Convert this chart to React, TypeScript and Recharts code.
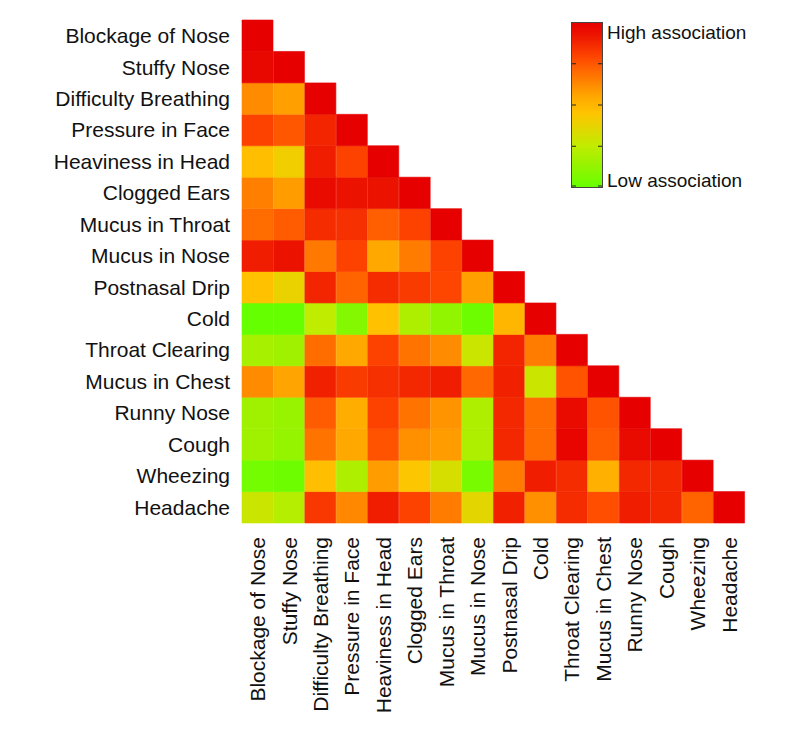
import React from "react";
import { BarChart, Bar, XAxis, YAxis, Cell } from "recharts";

const categories = [
  "Blockage of Nose", "Stuffy Nose", "Difficulty Breathing", "Pressure in Face",
  "Heaviness in Head", "Clogged Ears", "Mucus in Throat", "Mucus in Nose",
  "Postnasal Drip", "Cold", "Throat Clearing", "Mucus in Chest",
  "Runny Nose", "Cough", "Wheezing", "Headache",
];

// association strength (0 = low, 1 = high), lower triangle by row
const blockageOfNose = [1.0];
const stuffyNose = [0.97, 1.0];
const difficultyBreathing = [0.62, 0.57, 1.0];
const pressureInFace = [0.8, 0.75, 0.88, 1.0];
const heavinessInHead = [0.47, 0.4, 0.9, 0.8, 1.0];
const cloggedEars = [0.65, 0.58, 0.96, 0.93, 0.93, 1.0];
const mucusInThroat = [0.7, 0.74, 0.86, 0.85, 0.73, 0.8, 1.0];
const mucusInNose = [0.9, 0.93, 0.67, 0.8, 0.55, 0.66, 0.8, 1.0];
const postnasalDrip = [0.46, 0.38, 0.88, 0.72, 0.86, 0.82, 0.79, 0.57, 1.0];
const cold = [0.0, 0.0, 0.25, 0.08, 0.46, 0.2, 0.12, 0.02, 0.5, 1.0];
const throatClearing = [0.18, 0.16, 0.7, 0.55, 0.8, 0.68, 0.62, 0.28, 0.88, 0.66, 1.0];
const mucusInChest = [0.62, 0.56, 0.89, 0.82, 0.85, 0.87, 0.9, 0.71, 0.89, 0.28, 0.76, 1.0];
const runnyNose = [0.16, 0.14, 0.74, 0.53, 0.8, 0.68, 0.6, 0.2, 0.87, 0.7, 0.96, 0.76, 1.0];
const cough = [0.16, 0.13, 0.68, 0.55, 0.76, 0.61, 0.58, 0.2, 0.87, 0.7, 0.98, 0.74, 0.96, 1.0];
const wheezing = [0.04, 0.02, 0.47, 0.2, 0.58, 0.44, 0.32, 0.05, 0.66, 0.9, 0.86, 0.52, 0.87, 0.87, 1.0];
const headache = [0.28, 0.22, 0.83, 0.63, 0.9, 0.8, 0.66, 0.36, 0.89, 0.61, 0.86, 0.77, 0.9, 0.87, 0.72, 1.0];

const rows = [
  blockageOfNose, stuffyNose, difficultyBreathing, pressureInFace, heavinessInHead,
  cloggedEars, mucusInThroat, mucusInNose, postnasalDrip, cold, throatClearing,
  mucusInChest, runnyNose, cough, wheezing, headache,
];

const colorStops: [number, [number, number, number]][] = [
  [0.0, [0x66, 0xff, 0x00]],
  [0.15, [0x9c, 0xf2, 0x00]],
  [0.25, [0xc0, 0xec, 0x00]],
  [0.35, [0xe0, 0xd8, 0x00]],
  [0.45, [0xff, 0xc4, 0x00]],
  [0.55, [0xff, 0xa8, 0x00]],
  [0.62, [0xff, 0x8c, 0x00]],
  [0.7, [0xff, 0x6c, 0x00]],
  [0.78, [0xff, 0x4a, 0x00]],
  [0.86, [0xf5, 0x2c, 0x00]],
  [0.93, [0xec, 0x12, 0x00]],
  [1.0, [0xe6, 0x00, 0x00]],
];

function colorFor(v: number): string {
  for (let k = 1; k < colorStops.length; k++) {
    const [v1, c1] = colorStops[k];
    const [v0, c0] = colorStops[k - 1];
    if (v <= v1) {
      const t = (v - v0) / (v1 - v0);
      const c = c0.map((a, idx) => Math.round(a + (c1[idx] - a) * t));
      return `rgb(${c[0]},${c[1]},${c[2]})`;
    }
  }
  return "rgb(230,0,0)";
}

const n = categories.length;
const data = categories.map((name, j) => {
  const o: Record<string, number | string> = { name };
  for (let i = 0; i < n; i++) o[`r${i}`] = j <= i ? 1 : 0;
  return o;
});

const yTicks = categories.map((_, i) => n - 0.5 - i);

const FONT = "'Liberation Sans', Arial, sans-serif";
const FS = 21;

const XTick = (props: any) => {
  const { x, y, payload } = props;
  return (
    <g transform={`translate(${x},${y})`}>
      <text transform="rotate(-90)" textAnchor="end" dy="0.35em" fill="#111" fontSize={FS} fontFamily={FONT}>
        {payload.value}
      </text>
    </g>
  );
};

const YTick = (props: any) => {
  const { x, y, payload } = props;
  const idx = Math.round(n - 0.5 - payload.value);
  return (
    <text x={x} y={y} textAnchor="end" dy="0.35em" fill="#111" fontSize={FS} fontFamily={FONT}>
      {categories[idx]}
    </text>
  );
};

const ColorBar = () => {
  const stops = colorStops.map(([v]) => v);
  const h = 165;
  return (
    <svg width={210} height={190} style={{ position: "absolute", left: 563, top: 12 }}>
      <defs>
        <linearGradient id="cb" x1="0" y1="1" x2="0" y2="0">
          {stops.map((v) => (
            <stop key={v} offset={`${v * 100}%`} stopColor={colorFor(v)} />
          ))}
        </linearGradient>
      </defs>
      <rect x={0.5} y={2.5} width={31} height={h} fill="url(#cb)" stroke="#444" strokeWidth={1} />
      {[0.25, 0.5, 0.75].map((t) => (
        <g key={t}>
          <line x1={1} x2={5} y1={2.5 + h * t} y2={2.5 + h * t} stroke="#222" strokeWidth={1} />
          <line x1={27} x2={31} y1={2.5 + h * t} y2={2.5 + h * t} stroke="#222" strokeWidth={1} />
        </g>
      ))}
      <line x1={1} x2={5} y1={h + 1} y2={h + 1} stroke="#222" />
      <line x1={27} x2={31} y1={h + 1} y2={h + 1} stroke="#222" />
      <text x={36} y={12} dy="0.35em" fontSize={19} fontFamily={FONT} fill="#111">High association</text>
      <text x={36} y={160} dy="0.35em" fontSize={19} fontFamily={FONT} fill="#111">Low association</text>
    </svg>
  );
};

export default function App() {
  return (
    <div style={{ position: "relative", width: 780, height: 722, background: "#fff" }}>
      <BarChart
        width={780}
        height={722}
        data={data}
        margin={{ top: 12, right: 43, left: 0, bottom: 5 }}
        barCategoryGap={0}
        barGap={0}
      >
        <XAxis
          dataKey="name"
          type="category"
          interval={0}
          tick={<XTick />}
          tickLine={false}
          axisLine={false}
          tickSize={0}
          tickMargin={14}
          height={202}
        />
        <YAxis
          type="number"
          domain={[0, n]}
          ticks={yTicks}
          interval={0}
          tick={<YTick />}
          tickLine={false}
          axisLine={false}
          tickSize={0}
          tickMargin={12}
          width={234}
          allowDecimals
        />
        {categories
          .map((_, i) => n - 1 - i)
          .map((i) => (
            <Bar key={i} dataKey={`r${i}`} stackId="s" isAnimationActive={false}>
              {data.map((_, j) => {
                const f = j <= i ? colorFor(rows[i][j]) : "none";
                return <Cell key={j} fill={f} stroke={f} strokeWidth={0.6} />;
              })}
            </Bar>
          ))}
      </BarChart>
      <ColorBar />
    </div>
  );
}
